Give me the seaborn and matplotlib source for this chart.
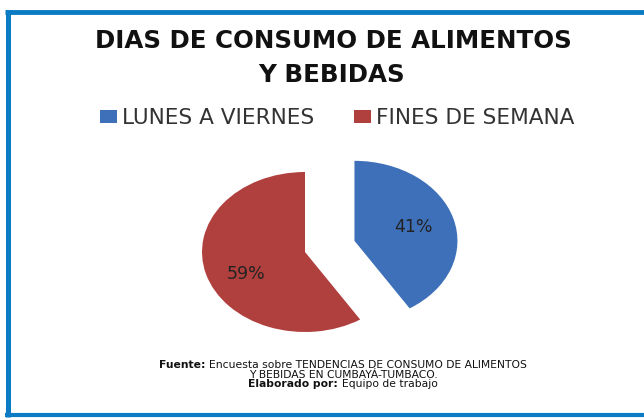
import matplotlib
matplotlib.use("Agg")
import matplotlib.pyplot as plt
import seaborn as sns
from matplotlib.lines import Line2D

sns.set_theme(style="white")
plt.rcParams['font.family'] = ['DejaVu Sans']

# ---- data ----
categories = ["LUNES A VIERNES", "FINES DE SEMANA"]
values = [41, 59]
colors = ["#3E70B9", "#B0403E"]
title_lines = ["DIAS DE CONSUMO DE ALIMENTOS", "Y BEBIDAS"]
footer_lines = [
    [("Fuente:", "bold"), ("Encuesta sobre TENDENCIAS DE CONSUMO DE ALIMENTOS", "normal")],
    [("Y BEBIDAS EN CUMBAYÁ-TUMBACO.", "normal")],
    [("Elaborado por:", "bold"), ("Equipo de trabajo", "normal")],
]

W, H = 644, 419
fig = plt.figure(figsize=(W / 100, H / 100), dpi=100)
fig.patch.set_facecolor("white")
renderer = fig.canvas.get_renderer()


def fx(px):
    return px / W


def fy(py):
    return 1 - py / H


# ---- border ----
border = "#0B7BC4"
fig.add_artist(Line2D([fx(5), fx(644)], [fy(12), fy(12)], color=border, lw=3.5, solid_capstyle="butt"))
fig.add_artist(Line2D([fx(7.5), fx(7.5)], [fy(10), fy(417)], color=border, lw=3.6, solid_capstyle="butt"))
fig.add_artist(Line2D([fx(5), fx(644)], [fy(415), fy(415)], color=border, lw=3.0, solid_capstyle="butt"))

# ---- title (font size fitted to the reference line width) ----
t1 = fig.text(fx(333), fy(41), title_lines[0], ha="center", va="center", fontsize=15,
              fontweight="bold", color="#111111")
w1 = t1.get_window_extent(renderer).width
tsize = 15 * 477 / w1
t1.set_fontsize(tsize)
fig.text(fx(332), fy(75), title_lines[1], ha="center", va="center", fontsize=tsize,
         fontweight="bold", color="#111111")

# ---- pie ----
cx, cy, rx, ry = 305, 252, 103, 80
lim = 2.0
ax = fig.add_axes([fx(cx - lim * rx), (H - cy - lim * ry) / H, 2 * lim * rx / W, 2 * lim * ry / H])
wedges, texts, autotexts = ax.pie(
    values, colors=colors, startangle=90, counterclock=False,
    explode=[0.5, 0.0], autopct=lambda p: f"{p:.0f}%", pctdistance=0.6,
    textprops=dict(fontsize=12.5, color="#222222"),
    wedgeprops=dict(linewidth=0),
)
autotexts[1].set_va("top")
ax.set_aspect("auto")
ax.set_xlim(-lim, lim)
ax.set_ylim(-lim, lim)
ax.axis("off")

# ---- legend ----
fig.legend(wedges, categories, loc="center", bbox_to_anchor=(fx(337), fy(118)),
           ncol=2, frameon=False, fontsize=15.6, handlelength=0.8, handleheight=0.52,
           handletextpad=0.2, columnspacing=1.85, labelcolor="#333333")

# ---- footer (size fitted to the reference first-line width) ----
gap_em = 0.35


def draw_line(ypx, segs, size):
    arts, widths = [], []
    for s, w in segs:
        t = fig.text(0, fy(ypx), s, ha="left", va="center", fontsize=size,
                     fontweight=w, color="#111111")
        arts.append(t)
        widths.append(t.get_window_extent(renderer).width)
    gap = gap_em * size * 100 / 72
    total = sum(widths) + gap * (len(segs) - 1)
    return arts, widths, gap, total


probe, pw, pg, ptot = draw_line(365, footer_lines[0], 6.0)
for a in probe:
    a.remove()
fsize = 6.0 * 373 / ptot
for ypx, segs in zip([365, 375, 384], footer_lines):
    arts, widths, gap, total = draw_line(ypx, segs, fsize)
    x0 = 343 - total / 2
    for t, wd in zip(arts, widths):
        t.set_x(fx(x0))
        x0 += wd + gap

fig.savefig("out.png", dpi=100, facecolor="white")
